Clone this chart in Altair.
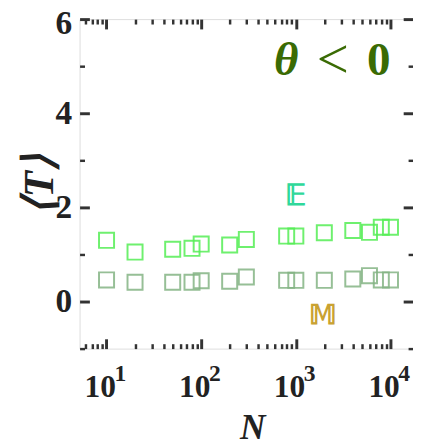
import altair as alt
import pandas as pd

# ---- data ----
N_vals = [10, 20, 50, 80, 100, 200, 300, 800, 1000, 2000, 4000, 6000, 8000, 10000]
E_vals = [1.30, 1.05, 1.11, 1.13, 1.22, 1.20, 1.32, 1.39, 1.39, 1.46, 1.51, 1.47, 1.58, 1.58]
M_vals = [0.46, 0.41, 0.41, 0.41, 0.44, 0.43, 0.52, 0.45, 0.45, 0.45, 0.48, 0.55, 0.46, 0.46]

X_MIN, X_MAX = 5.19, 17300
x_major = [10, 100, 1000, 10000]
x_exp = ["1", "2", "3", "4"]
x_ticks = [m * 10 ** e for e in range(0, 5) for m in range(1, 10) if X_MIN <= m * 10 ** e <= X_MAX]
y_ticks = [-1, 0, 1, 2, 3, 4, 5, 6]

ann_text = ["θ", "<", "0", "𝔼", "𝕄"]
ann_x = [790, 2450, 7500, 1000, 1950]
ann_y = [5.10, 5.10, 5.10, 2.23, -0.31]
ann_color = ["#3a6b04", "#3a6b04", "#3a6b04", "#2fd89a", "#c9a232"]
ann_size = [48, 58, 48, 30, 28]
ann_style = ["italic", "normal", "normal", "normal", "normal"]
ann_weight = ["bold", "normal", "bold", "bold", "bold"]

df_E = pd.DataFrame({"N": N_vals, "T": E_vals})
df_M = pd.DataFrame({"N": N_vals, "T": M_vals})
df_ann = pd.DataFrame({"text": ann_text, "N": ann_x, "T": ann_y, "color": ann_color,
                       "size": ann_size, "style": ann_style, "weight": ann_weight})
df_exp = pd.DataFrame({"N": x_major, "exp": x_exp, "T": [-1] * len(x_major)})

FRAME = "#333333"
SERIF = "Liberation Serif"
TXT = "#222222"

xscale = alt.Scale(type="log", domain=[X_MIN, X_MAX], nice=False)
yscale = alt.Scale(domain=[-1, 6], nice=False, zero=False)

major_x = "indexof([10,100,1000,10000], datum.value) >= 0"
major_y = "datum.value % 2 == 0"


def tick_props(test):
    # axis moved 10px inside the frame; ticks run outward up to the frame,
    # minor ones only show their outer half (dash pattern)
    return dict(
        offset=-10, tickSize=10, tickColor=FRAME, domain=False, grid=False,
        tickDash={"condition": {"test": test, "value": [20, 0]}, "value": [5, 5]},
        tickDashOffset=5,
        tickWidth={"condition": {"test": test, "value": 3}, "value": 2.5},
    )


x_bottom = alt.Axis(
    values=x_ticks, labelExpr=major_x + " ? '10' : ''", title="N",
    labelFont=SERIF, labelFontSize=32, labelFontWeight="bold", labelColor=TXT,
    labelPadding=24, labelOffset=-7, labelFlush=False, labelOverlap=False,
    titleFont=SERIF, titleFontSize=36, titleFontStyle="italic", titleFontWeight="bold",
    titleColor=TXT, titlePadding=9, titleX=176,
    **tick_props(major_x),
)
y_left = alt.Axis(
    values=y_ticks, labelExpr="datum.value % 2 == 0 ? datum.label : ''",
    title="⟨T⟩",
    labelFont=SERIF, labelFontSize=34, labelFontWeight="bold", labelColor=TXT,
    labelPadding=8, labelFlush=False, labelOverlap=False,
    labelOffset={"condition": {"test": "datum.value == 6", "value": 5}, "value": 0},
    titleFont=SERIF, titleFontSize=44, titleFontStyle="italic", titleFontWeight="bold",
    titleColor=TXT, titlePadding=-6,
    **tick_props(major_y),
)
x_top = alt.Axis(orient="top", values=x_ticks, labels=False, title=None, **tick_props(major_x))
y_right = alt.Axis(orient="right", values=y_ticks, labels=False, title=None, **tick_props(major_y))

pts_E = alt.Chart(df_E).mark_point(shape="square", size=235, strokeWidth=2, filled=False,
                                   color="#55ee55", opacity=0.85).encode(
    x=alt.X("N:Q", scale=xscale, axis=x_bottom),
    y=alt.Y("T:Q", scale=yscale, axis=y_left),
)
pts_M = alt.Chart(df_M).mark_point(shape="square", size=235, strokeWidth=2, filled=False,
                                   color="#84b484", opacity=0.85).encode(
    x=alt.X("N:Q", scale=xscale, axis=None),
    y=alt.Y("T:Q", scale=yscale, axis=None),
)
mirror = alt.Chart(df_M).mark_point(opacity=0).encode(
    x=alt.X("N:Q", scale=xscale, axis=x_top),
    y=alt.Y("T:Q", scale=yscale, axis=y_right),
)

# superscript exponents of the x tick labels
exps = alt.Chart(df_exp).mark_text(font=SERIF, fontWeight="bold", fontSize=24, color=TXT,
                                   dx=14, dy=26, baseline="middle", align="center").encode(
    x=alt.X("N:Q", scale=xscale, axis=None),
    y=alt.Y("T:Q", scale=yscale, axis=None),
    text="exp:N",
)


def ann_layer(style, weight):
    return alt.Chart(df_ann).transform_filter(
        f"datum.style == '{style}' && datum.weight == '{weight}'"
    ).mark_text(font=SERIF, fontWeight=weight, fontStyle=style,
                baseline="middle", align="center").encode(
        x=alt.X("N:Q", scale=xscale, axis=None),
        y=alt.Y("T:Q", scale=yscale, axis=None),
        text="text:N",
        color=alt.Color("color:N", scale=None),
        size=alt.Size("size:Q", scale=None),
    )


chart = alt.layer(
    pts_E, pts_M, mirror, exps,
    ann_layer("italic", "bold"), ann_layer("normal", "normal"), ann_layer("normal", "bold"),
).resolve_axis(
    x="independent", y="independent"
).properties(
    width=340, height=336,
    autosize=alt.AutoSizeParams(type="none"),
    padding={"left": 73, "top": 7, "right": 0, "bottom": 96},
).configure_view(
    stroke=FRAME, strokeWidth=3.5
).configure(background="white")

chart.save("out.html", embed_options={"renderer": "svg", "actions": False})
